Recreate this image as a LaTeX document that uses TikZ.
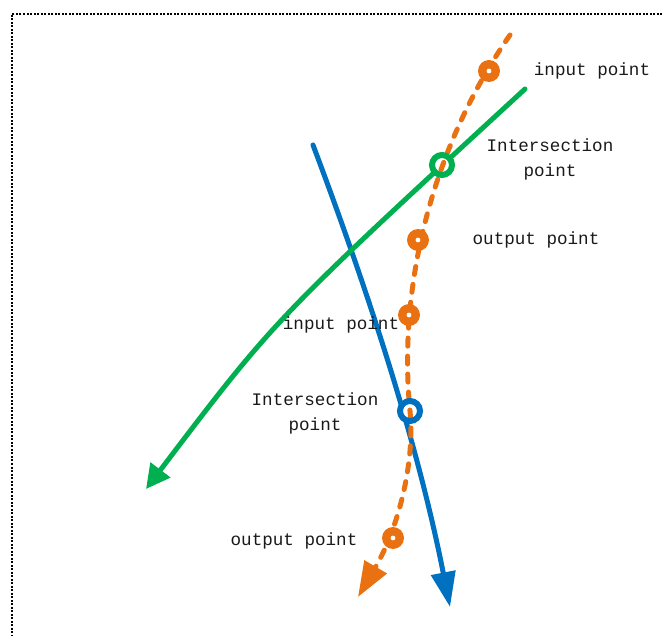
\documentclass[tikz,border=0pt]{standalone}
\usepackage{fontspec}
\setmonofont{Liberation Mono}
\usetikzlibrary{arrows.meta}
\definecolor{cblue}{RGB}{0,112,192}
\definecolor{cgreen}{RGB}{0,176,80}
\definecolor{corange}{RGB}{233,113,18}
\tikzset{
  lbl/.style={font=\ttfamily\fontsize{17.6}{25}\selectfont, text=black!90, inner sep=0pt, align=center},
  curveline/.style={line width=5pt, line cap=round},
  orangedash/.style={line width=5pt, line cap=round, dash pattern=on 8pt off 10pt, corange},
  omark/.style={circle, fill=corange, minimum size=22pt, inner sep=0pt},
  ringmark/.style={circle, draw, line width=6pt, minimum size=20pt, inner sep=0pt}
}
\begin{document}
\begin{tikzpicture}[x=1pt,y=-1pt]
\useasboundingbox (0,0) rectangle (662,636);
% frame
\draw[line width=1.3pt, dash pattern=on 2pt off 1.5pt] (662,14) -- (12,14) -- (12,636);
% coordinates
\coordinate (bS) at (313,145);
\coordinate (bE) at (450,607);
\coordinate (gS) at (525,89);
\coordinate (gE) at (146,489);
\coordinate (oS) at (510,35);
\coordinate (oM) at (410,411);
\coordinate (oE) at (358,597);
% blue and green curves
\draw[curveline, cblue, -{Triangle[length=35pt,width=24pt]}] (bS) .. controls (360,270) and (415,430) .. (bE);
\draw[curveline, cgreen, -{Triangle[length=24pt,width=24pt]}] (gS) .. controls (275,319) .. (gE);
% ring interiors
\fill[white] (442,165) circle (9pt);
\fill[white] (410,411) circle (9pt);
% orange dashed path
\draw[orangedash, -{Triangle[length=35pt,width=25pt]}] (oS) .. controls (430,150) and (398,290) .. (oM) .. controls (415,461) and (399,527) .. (oE);
% rings
\node[ringmark, draw=cgreen] (ringG) at (442,165) {};
\node[ringmark, draw=cblue] (ringB) at (410,411) {};
% orange markers
\foreach \n/\p in {m1/{(489,71)}, m2/{(418,240)}, m3/{(409,315)}, m4/{(393,538)}} {
  \node[omark] (\n) at \p {};
  \fill[white] (\n.center) circle (2.4pt);
}
% labels
\node[lbl] (l1) at (592,71) {input point};
\node[lbl] (l2) at (550,159.5) {Intersection\\point};
\node[lbl] (l3) at (536,240) {output point};
\node[lbl] (l4) at (341,325) {input point};
\node[lbl] (l5) at (315,413) {Intersection\\point};
\node[lbl] (l6) at (294,541) {output point};
\end{tikzpicture}
\end{document}
